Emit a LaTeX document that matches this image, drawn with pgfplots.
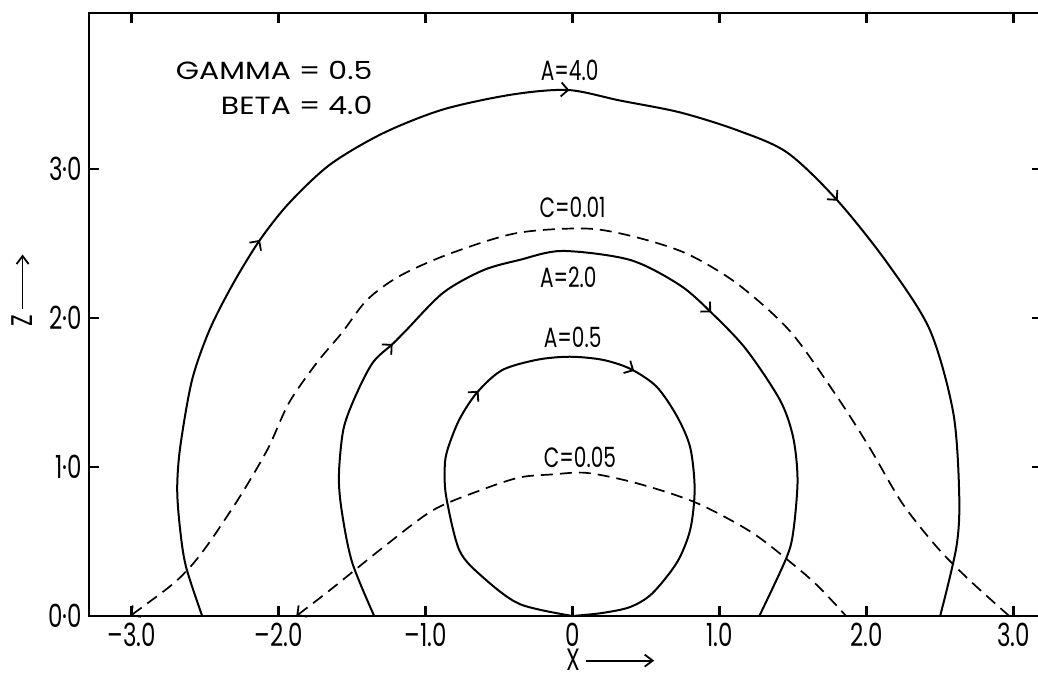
\documentclass[border=0pt]{standalone}
\usepackage{fontspec}
\setmainfont{Poppins}
\newfontfamily\stencil[FakeStretch=0.72]{Poppins}
\newfontfamily\widefont[FakeStretch=1.2]{Poppins}
\usepackage{pgfplots}
\pgfplotsset{compat=1.18}
\usetikzlibrary{arrows.meta,decorations.markings}

\tikzset{
  >={Straight Barb[length=3.5bp,width=7bp,line width=0.9bp]},
  solidcurve/.style={black, line width=1bp, smooth, tension=0.5, no marks},
  dashcurve/.style={black, line width=0.85bp, dash pattern=on 6bp off 3.5bp, smooth, tension=0.5, no marks},
}

\begin{document}
\begin{tikzpicture}
\useasboundingbox (-44.5bp,-28.5bp) rectangle (474.5bp,308bp);
\begin{axis}[
  at={(0,0)}, anchor=south west,
  x=73.5bp, y=74.5bp,
  xmin=-3.29, xmax=3.19, ymin=0, ymax=4.047,
  axis line style={line width=1.2bp},
  xtick={-3,-2,-1,0,1,2,3},
  xticklabels={{–3.0},{–2.0},{–1.0},0,1.0,2.0,3.0},
  ytick={0,1,2,3},
  yticklabels={0·0,1·0,2·0,3·0},
  major tick length=5bp,
  tick style={line width=1.2bp, black},
  tick align=inside,
  ticklabel style={font=\stencil\fontsize{16}{16}\selectfont},
  /pgf/number format/assume math mode=true,
  xlabel={X\,\tikz[baseline=-0.6ex]\draw[-{Straight Barb[length=4bp,width=6bp]},line width=0.9bp](0,0)--(34bp,0);},
  ylabel={Z\,\tikz[baseline=-0.6ex]\draw[-{Straight Barb[length=4bp,width=6bp]},line width=0.9bp](0,0)--(27bp,0);},
  every axis x label/.style={at={(axis cs:0.26,0)}, anchor=center, yshift=-22bp, inner sep=0pt, font=\stencil\fontsize{15.5}{15.5}\selectfont},
  every axis y label/.style={at={(axis cs:-3.29,2.19)}, rotate=90, anchor=center, yshift=33.5bp, inner sep=0pt, font=\stencil\fontsize{15}{15}\selectfont},
  clip=false,
]

% A = 4.0
\addplot[solidcurve, postaction={decorate}, decoration={markings,
  mark=at position 0.264 with {\arrow{>}},
  mark=at position 0.502 with {\arrow{>}},
  mark=at position 0.700 with {\arrow{>}}}]
coordinates {
(-2.52,0) (-2.63,0.33) (-2.67,0.58) (-2.69,0.85) (-2.67,1.13) (-2.59,1.58) (-2.47,1.92)
(-2.31,2.23) (-2.13,2.52) (-1.93,2.77) (-1.65,3.03) (-1.29,3.24) (-0.88,3.40) (-0.41,3.50) (-0.03,3.53)
(0.32,3.46) (0.73,3.38) (1.12,3.26) (1.46,3.11) (1.80,2.79) (2.14,2.37) (2.43,1.92) (2.59,1.36)
(2.63,0.80) (2.61,0.46) (2.50,0)
};

% A = 2.0
\addplot[solidcurve, postaction={decorate}, decoration={markings,
  mark=at position 0.294 with {\arrow{>}},
  mark=at position 0.661 with {\arrow{>}}}]
coordinates {
(-1.35,0) (-1.50,0.36) (-1.57,0.70) (-1.59,0.94) (-1.56,1.25) (-1.48,1.47) (-1.36,1.70) (-1.22,1.83)
(-1.13,1.92) (-0.88,2.17) (-0.61,2.32) (-0.36,2.39) (-0.07,2.45) (0.39,2.39) (0.73,2.22) (0.95,2.03)
(1.18,1.79) (1.41,1.45) (1.50,1.20) (1.53,0.91) (1.50,0.56) (1.45,0.38) (1.27,0)
};

% A = 0.5
\addplot[solidcurve, postaction={decorate}, decoration={markings,
  mark=at position 0.376 with {\arrow{>}},
  mark=at position 0.582 with {\arrow{>}}}]
coordinates {
(0,0) (-0.36,0.08) (-0.61,0.26) (-0.77,0.44) (-0.86,0.80) (-0.87,1.00) (-0.85,1.12) (-0.77,1.32)
(-0.65,1.50) (-0.48,1.65) (-0.24,1.72) (-0.02,1.74) (0.20,1.72) (0.39,1.66) (0.57,1.54) (0.71,1.34)
(0.80,1.13) (0.83,0.85) (0.80,0.58) (0.71,0.36) (0.54,0.15) (0.39,0.06) (0.20,0.02) (0,0)
};

% C = 0.01
\addplot[dashcurve, <-]
coordinates {
(-3.01,0) (-2.61,0.32) (-2.31,0.73) (-2.08,1.11) (-1.93,1.43) (-1.74,1.70) (-1.57,1.90) (-1.40,2.12)
(-1.18,2.28) (-0.84,2.43) (-0.38,2.57) (0.10,2.60) (0.44,2.54) (0.78,2.43) (1.12,2.23) (1.48,1.91)
(1.80,1.47) (2.02,1.13) (2.24,0.76) (2.48,0.46) (2.70,0.24) (2.97,0)
};

% C = 0.05
\addplot[dashcurve, <-]
coordinates {
(-1.88,0) (-1.63,0.19) (-1.29,0.46) (-0.95,0.71) (-0.61,0.85) (-0.36,0.93) (-0.14,0.95) (0.10,0.96)
(0.44,0.89) (0.84,0.76) (1.22,0.56) (1.52,0.33) (1.68,0.19) (1.86,0)
};

\node[font=\stencil\fontsize{14}{14}\selectfont, inner sep=0] at (axis cs:-0.02,3.66) {A=4.0};
\node[font=\stencil\fontsize{14}{14}\selectfont, inner sep=0] at (axis cs:0.0,2.745) {C=0.01};
\node[font=\stencil\fontsize{14}{14}\selectfont, inner sep=0] at (axis cs:-0.03,2.275) {A=2.0};
\node[font=\stencil\fontsize{14}{14}\selectfont, inner sep=0] at (axis cs:0.0,1.87) {A=0.5};
\node[font=\stencil\fontsize{14}{14}\selectfont, inner sep=0] at (axis cs:0.05,1.067) {C=0.05};

\node[font=\widefont\fontsize{12.5}{17.5}\selectfont, align=right, anchor=east, inner sep=0] at (axis cs:-1.36,3.545) {GAMMA = 0.5\\BETA = 4.0};
\end{axis}
\end{tikzpicture}
\end{document}
